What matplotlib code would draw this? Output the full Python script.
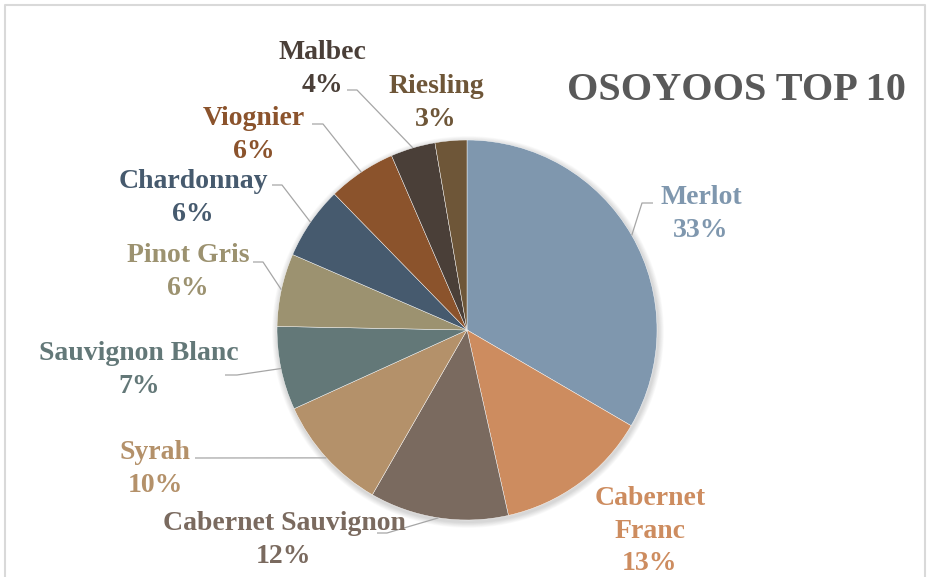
import matplotlib.pyplot as plt
from matplotlib.patches import Circle
import numpy as np

# ── Datos ─────────────────────────────────────────────────
variedades = ['Merlot', 'Cabernet\nFranc', 'Cabernet Sauvignon', 'Syrah',
              'Sauvignon Blanc', 'Pinot Gris', 'Chardonnay', 'Viognier',
              'Malbec', 'Riesling']
porcentajes = [33.4, 13.1, 11.8, 9.9, 7.1, 6.2, 6.2, 5.8, 3.8, 2.7]
colores = ['#7F97AE', '#CD8C5F', '#7A6A5F', '#B4916A', '#637878',
           '#9C9270', '#465A6E', '#8B532C', '#4A3F38', '#6E5638']
titulo = 'OSOYOOS TOP 10'

# ── Layout (pixeles, y hacia abajo) ───────────────────────
W, H = 934, 577
CX, CY, R = 467, 330, 190
pos_etiquetas = [(701, 214), (650, 531), (284, 540), (155, 469), (139, 370),
                 (188, 272), (193, 198), (254, 135), (322, 69), (436, 103)]
# inicio y codo de cada línea guía (None = sin línea)
guias = [((653, 203), (642, 203)), None, ((377, 533), (387, 533)),
         ((195, 458), (195, 458)), ((225, 375), (237, 375)),
         ((253, 262), (263, 262)), ((272, 185), (282, 185)),
         ((312, 124), (323, 124)), ((347, 90), (357, 90)), None]

FUENTE = 'Liberation Serif'

fig = plt.figure(figsize=(W / 100, H / 100), dpi=100)
ax = fig.add_axes([0, 0, 1, 1])

# sombra suave
for k in range(8):
    ax.add_patch(Circle((CX + 1, H - CY - 2), R + 1 + k * 0.7,
                        color='black', alpha=0.018, lw=0, zorder=0))

ax.pie(porcentajes, colors=colores, startangle=90, counterclock=False,
       center=(CX, H - CY), radius=R,
       wedgeprops=dict(edgecolor='white', linewidth=0.3, zorder=2))

# líneas guía hasta el borde del sector
acum = np.cumsum([0] + porcentajes[:-1])
for v, a, g in zip(porcentajes, acum, guias):
    if g is None:
        continue
    ang = np.deg2rad(90 - 360 * (a + v / 2) / 100)
    px = CX + R * np.cos(ang)
    py = (H - CY) + R * np.sin(ang)
    (x0, y0), (x1, y1) = g
    ax.plot([x0, x1, px], [H - y0, H - y1, py], color='#A6A6A6', lw=0.9,
            zorder=3, solid_capstyle='butt')

# etiquetas
for nombre, v, c, (x, y) in zip(variedades, porcentajes, colores, pos_etiquetas):
    ax.text(x, H - y, f"{nombre}\n{v:.0f}%", ha='center', va='center',
            color=c, fontsize=20, fontweight='bold', family=FUENTE,
            linespacing=1.4, zorder=4)

ax.text(736, H - 90, titulo, ha='center', va='center', color='#595959',
        fontsize=29, fontweight='bold', family=FUENTE)

# marco del gráfico
ax.plot([5, 5, 925, 925], [-10, H - 5, H - 5, -10], color='#D9D9D9', lw=1.5)

ax.set_xlim(0, W)
ax.set_ylim(0, H)
ax.set_aspect('equal')
ax.axis('off')

fig.savefig('out.png', dpi=100)
